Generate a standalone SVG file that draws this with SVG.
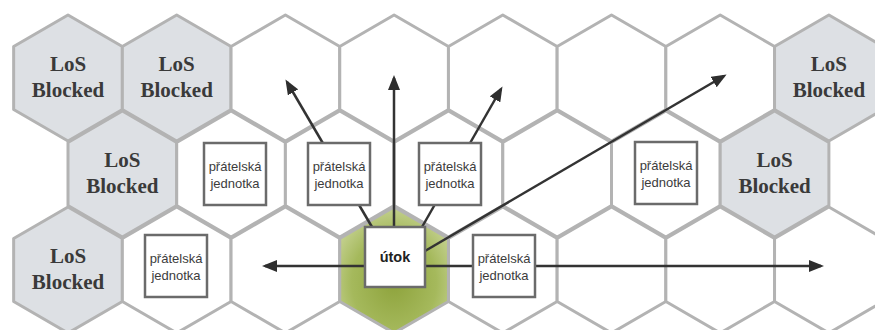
<svg xmlns="http://www.w3.org/2000/svg" width="875" height="330" viewBox="0 0 875 330">
  <defs>
    <polygon id="hexShape" points="0,-63 54.35,-31.5 54.35,31.5 0,63 -54.35,31.5 -54.35,-31.5"/>
    <radialGradient id="greenFill" cx="50%" cy="60%" r="60%">
      <stop offset="0%" stop-color="#8ea33c"/>
      <stop offset="65%" stop-color="#a5b95c"/>
      <stop offset="100%" stop-color="#c3d08e"/>
    </radialGradient>
    <marker id="arrowHead" markerUnits="userSpaceOnUse" markerWidth="15" markerHeight="12" refX="12" refY="6" orient="auto">
      <path d="M0,0 L15,6 L0,12 z" fill="#2e2e2e"/>
    </marker>
  </defs>
  <style>
    .hex { fill: #ffffff; stroke: #b3b3b3; stroke-width: 3; stroke-linejoin: round; }
    .los { fill: #dde0e4; }
    .attack { fill: url(#greenFill); }
    .losText { font-family: "Liberation Serif", "Times New Roman", serif; font-weight: bold; font-size: 21px; fill: #3a3a3a; text-anchor: middle; }
    .unit { fill: #ffffff; stroke: #6b6b6b; stroke-width: 2.5; }
    .unitText { font-family: "Liberation Sans", Arial, sans-serif; font-size: 13px; fill: #3c3c3c; text-anchor: middle; }
    .attackText { font-family: "Liberation Sans", Arial, sans-serif; font-size: 14.5px; font-weight: bold; fill: #222222; text-anchor: middle; }
    .conn { stroke: #333333; stroke-width: 2.5; fill: none; marker-end: url(#arrowHead); }
  </style>
  <rect width="875" height="330" fill="#ffffff"/>

  <!-- Row 1 -->
  <g id="hex-r1-c1"><use href="#hexShape" class="hex los" transform="translate(68,78)"/><text class="losText" x="68" y="71">LoS</text><text class="losText" x="68" y="97">Blocked</text></g>
  <g id="hex-r1-c2"><use href="#hexShape" class="hex los" transform="translate(176.7,78)"/><text class="losText" x="176.7" y="71">LoS</text><text class="losText" x="176.7" y="97">Blocked</text></g>
  <g id="hex-r1-c3"><use href="#hexShape" class="hex" transform="translate(285.4,78)"/></g>
  <g id="hex-r1-c4"><use href="#hexShape" class="hex" transform="translate(394.1,78)"/></g>
  <g id="hex-r1-c5"><use href="#hexShape" class="hex" transform="translate(502.8,78)"/></g>
  <g id="hex-r1-c6"><use href="#hexShape" class="hex" transform="translate(611.5,78)"/></g>
  <g id="hex-r1-c7"><use href="#hexShape" class="hex" transform="translate(720.2,78)"/></g>
  <g id="hex-r1-c8"><use href="#hexShape" class="hex los" transform="translate(828.9,78)"/><text class="losText" x="828.9" y="71">LoS</text><text class="losText" x="828.9" y="97">Blocked</text></g>

  <!-- Row 2 -->
  <g id="hex-r2-c1"><use href="#hexShape" class="hex los" transform="translate(122.35,174)"/><text class="losText" x="122.35" y="167">LoS</text><text class="losText" x="122.35" y="193">Blocked</text></g>
  <g id="hex-r2-c2"><use href="#hexShape" class="hex" transform="translate(231.05,174)"/></g>
  <g id="hex-r2-c3"><use href="#hexShape" class="hex" transform="translate(339.75,174)"/></g>
  <g id="hex-r2-c4"><use href="#hexShape" class="hex" transform="translate(448.45,174)"/></g>
  <g id="hex-r2-c5"><use href="#hexShape" class="hex" transform="translate(557.15,174)"/></g>
  <g id="hex-r2-c6"><use href="#hexShape" class="hex" transform="translate(665.85,174)"/></g>
  <g id="hex-r2-c7"><use href="#hexShape" class="hex los" transform="translate(774.55,174)"/><text class="losText" x="774.55" y="167">LoS</text><text class="losText" x="774.55" y="193">Blocked</text></g>

  <!-- Row 3 -->
  <g id="hex-r3-c1"><use href="#hexShape" class="hex los" transform="translate(68,270)"/><text class="losText" x="68" y="263">LoS</text><text class="losText" x="68" y="289">Blocked</text></g>
  <g id="hex-r3-c2"><use href="#hexShape" class="hex" transform="translate(176.7,270)"/></g>
  <g id="hex-r3-c3"><use href="#hexShape" class="hex" transform="translate(285.4,270)"/></g>
  <g id="hex-r3-c5"><use href="#hexShape" class="hex" transform="translate(502.8,270)"/></g>
  <g id="hex-r3-c6"><use href="#hexShape" class="hex" transform="translate(611.5,270)"/></g>
  <g id="hex-r3-c7"><use href="#hexShape" class="hex" transform="translate(720.2,270)"/></g>
  <g id="hex-r3-c8"><use href="#hexShape" class="hex" transform="translate(828.9,270)"/></g>
  <g id="hex-r3-c4"><use href="#hexShape" class="hex attack" transform="translate(394.1,270)"/></g>

  <!-- Connectors -->
  <g id="connectors">
    <line class="conn" x1="394" y1="227" x2="394" y2="78"/>
    <line class="conn" x1="372" y1="227" x2="287" y2="82"/>
    <line class="conn" x1="422" y1="227" x2="501" y2="89"/>
    <line class="conn" x1="425" y1="251" x2="724" y2="76"/>
    <line class="conn" x1="365" y1="266" x2="265" y2="266"/>
    <line class="conn" x1="425" y1="266" x2="821" y2="266"/>
  </g>

  <!-- Friendly units -->
  <g id="unit-1"><rect class="unit" x="204" y="143" width="62" height="62"/><text class="unitText" x="235" y="171">přátelská</text><text class="unitText" x="235" y="188">jednotka</text></g>
  <g id="unit-2"><rect class="unit" x="308" y="143" width="62" height="62"/><text class="unitText" x="339" y="171">přátelská</text><text class="unitText" x="339" y="188">jednotka</text></g>
  <g id="unit-3"><rect class="unit" x="419" y="143" width="62" height="62"/><text class="unitText" x="450" y="171">přátelská</text><text class="unitText" x="450" y="188">jednotka</text></g>
  <g id="unit-4"><rect class="unit" x="635" y="142" width="62" height="62"/><text class="unitText" x="666" y="170">přátelská</text><text class="unitText" x="666" y="187">jednotka</text></g>
  <g id="unit-5"><rect class="unit" x="145" y="235" width="62" height="62"/><text class="unitText" x="176" y="263">přátelská</text><text class="unitText" x="176" y="280">jednotka</text></g>
  <g id="unit-6"><rect class="unit" x="473" y="235" width="62" height="62"/><text class="unitText" x="504" y="263">přátelská</text><text class="unitText" x="504" y="280">jednotka</text></g>

  <!-- Attacker -->
  <g id="attacker"><rect class="unit" x="365" y="227" width="60" height="60"/><text class="attackText" x="395" y="262">útok</text></g>
</svg>
